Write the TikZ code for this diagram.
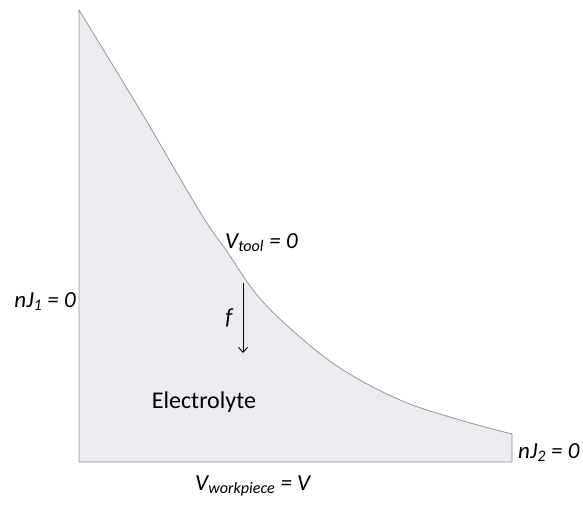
\documentclass[tikz,border=0pt]{standalone}
\usepackage{fontspec}
\setmainfont{Carlito}
\usetikzlibrary{arrows.meta}
\definecolor{electro}{RGB}{235,235,240}
\definecolor{edge}{RGB}{150,150,150}
\tikzset{
	lbl/.style={font=\itshape\fontsize{23}{25}\selectfont, inner sep=0pt},
}
\begin{document}
\begin{tikzpicture}[x=1pt, y=-1pt]
		\useasboundingbox (0,0) rectangle (583,504);

		\coordinate (top) at (79,10);
		\coordinate (corner) at (79,462);
		\coordinate (right) at (512,462);
		\coordinate (end) at (512,434);

		\draw[edge, fill=electro, line width=0.8pt] (corner)
			-- plot[smooth, tension=0.6] coordinates {(79,10) (140,110) (200,212) (228,253) (257,295) (292,330) (340,368) (400,400) (460,420) (512,434)}
			-- (right) -- cycle;

		\node[lbl, anchor=base east] (j1) at (76,307) {nJ\textsubscript{1} = 0};
		\node[lbl, anchor=base west] (j2) at (518,458) {nJ\textsubscript{2} = 0};
		\node[lbl, anchor=base west] (tool) at (225,248) {V\textsubscript{tool} = 0};
		\node[lbl, anchor=base west] (work) at (195,490) {V\textsubscript{workpiece} = V};
		\node[lbl] (f) at (229,318) {f};
		\node[font=\fontsize{24}{26}\selectfont, inner sep=0pt] (elec) at (204,402) {Electrolyte};

		\coordinate (fa) at (243,283);
		\coordinate (fb) at (243,353);
		\draw[-{Straight Barb[length=5pt, width=9pt]}, line width=0.9pt] (fa) -- (fb);
	\end{tikzpicture}
\end{document}
